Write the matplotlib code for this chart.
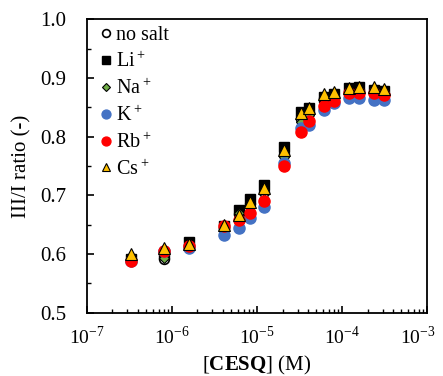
import matplotlib
matplotlib.use("Agg")
import matplotlib.pyplot as plt
import matplotlib.transforms as mtransforms
from matplotlib.ticker import LogLocator, MultipleLocator, FixedLocator

plt.rcParams["font.family"] = ["Liberation Serif", "DejaVu Serif"]
plt.rcParams["mathtext.fontset"] = "custom"
plt.rcParams["mathtext.rm"] = "Liberation Serif"
plt.rcParams["mathtext.bf"] = "Liberation Serif:bold"

# CESQ concentration (M)
conc = [3.3e-7, 8e-7, 1.6e-6, 4.1e-6, 6.1e-6, 8.2e-6, 1.2e-5, 2.1e-5,
        3.3e-5, 4.1e-5, 6.1e-5, 8.1e-5, 1.2e-4, 1.6e-4, 2.4e-4, 3.1e-4]

no_salt = [0.588, 0.592, 0.615, 0.645, 0.668, 0.685, 0.705, 0.770,
           0.830, 0.840, 0.865, 0.868, 0.878, 0.879, 0.875, 0.872]
li = [0.592, 0.600, 0.620, 0.648, 0.675, 0.694, 0.718, 0.783,
      0.842, 0.848, 0.868, 0.872, 0.882, 0.884, 0.880, 0.878]
li_err = [0.002, 0.002, 0.008, 0.002, 0.002, 0.002, 0.003, 0.003,
          0.003, 0.003, 0.003, 0.003, 0.003, 0.003, 0.002, 0.002]
na = [0.590, 0.594, 0.617, 0.646, 0.670, 0.686, 0.708, 0.766,
      0.825, 0.837, 0.862, 0.866, 0.878, 0.880, 0.877, 0.874]
k = [0.588, 0.605, 0.610, 0.633, 0.645, 0.661, 0.681, 0.755,
     0.815, 0.820, 0.846, 0.858, 0.865, 0.866, 0.863, 0.862]
rb = [0.589, 0.606, 0.613, 0.647, 0.658, 0.670, 0.690, 0.750,
      0.808, 0.827, 0.853, 0.861, 0.874, 0.875, 0.874, 0.871]
cs = [0.600, 0.610, 0.618, 0.650, 0.667, 0.689, 0.713, 0.777,
      0.840, 0.848, 0.872, 0.876, 0.882, 0.885, 0.885, 0.881]

x_ticks = [1e-7, 1e-6, 1e-5, 1e-4, 1e-3]
x_ticklabels = ["10$^{-7}$", "10$^{-6}$", "10$^{-5}$", "10$^{-4}$", "10$^{-3}$"]

fig = plt.figure(figsize=(4.43, 3.76), dpi=100)
ax = fig.add_axes([0.196, 0.168, 0.768, 0.781])

ax.plot(conc, no_salt, "o", ms=7, mfc="white", mec="black", mew=1.2, label="no salt", zorder=2)
ax.errorbar(conc, li, yerr=li_err, fmt="none", ecolor="black", elinewidth=1, capsize=3, zorder=2.1)
ax.plot(conc, li, "s", ms=6.5, color="black", label="Li$^+$", zorder=2.2)
ax.plot(conc, na, "D", ms=5.5, mfc="#70AD47", mec="black", mew=0.8, label="Na$^+$", zorder=2.3)
ax.plot(conc, k, "o", ms=8, color="#4472C4", mec="#4472C4", label="K$^+$", zorder=2.4)
ax.plot(conc, rb, "o", ms=8, color="#FF0000", mec="#FF0000", label="Rb$^+$", zorder=2.5)
ax.plot(conc, cs, "^", ms=8, mfc="#FFC000", mec="black", mew=0.8, label="Cs$^+$", zorder=2.6)

ax.set_xscale("log")
ax.set_xlim(1e-7, 1e-3)
ax.set_ylim(0.5, 1.0)
ax.xaxis.set_major_locator(FixedLocator(x_ticks))
ax.xaxis.set_minor_locator(LogLocator(base=10, subs=range(2, 10), numticks=20))
ax.set_xticklabels(x_ticklabels)
ax.yaxis.set_major_locator(MultipleLocator(0.1))
ax.yaxis.set_minor_locator(MultipleLocator(0.05))
ax.yaxis.set_major_formatter(plt.FormatStrFormatter("%.1f"))

ax.tick_params(which="both", direction="in", top=False, right=False, labelsize=15)
ax.tick_params(axis="x", labelsize=14)
ax.tick_params(axis="y", which="major", pad=15)
ax.tick_params(axis="x", which="major", pad=9)
ax.tick_params(which="major", length=5, width=1.2)
ax.tick_params(which="minor", length=3, width=1)
for s in ax.spines.values():
    s.set_linewidth(1.3)

# nudge the last x label inward so it stays inside the figure
last = ax.get_xticklabels()[-1]
last.set_transform(last.get_transform() + mtransforms.ScaledTranslation(-0.09, 0, fig.dpi_scale_trans))

ax.set_xlabel(r"[$\mathbf{CESQ}$] (M)", fontsize=15, labelpad=4)
ax.set_ylabel("III/I ratio (-)", fontsize=15, labelpad=6)

ax.legend(loc="upper left", frameon=False, fontsize=14.5, handletextpad=-0.1,
          handlelength=1.2, labelspacing=0.3, borderaxespad=0.0, borderpad=0.35,
          markerscale=0.8)

fig.savefig("out.png", dpi=100)
